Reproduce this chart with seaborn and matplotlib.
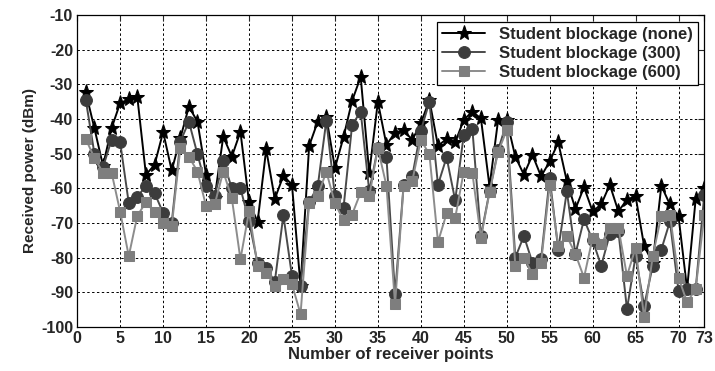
import matplotlib
matplotlib.use("Agg")
import matplotlib.pyplot as plt
import numpy as np
import pandas as pd
import seaborn as sns

sns.set_style('white')
plt.rcParams['font.family'] = ['Liberation Sans', 'DejaVu Sans']
plt.rcParams['font.weight'] = 'bold'
plt.rcParams['axes.unicode_minus'] = False

points = list(range(1, 74))

# Received power (dBm), receiver points 1..73
power_none = [-32.4, -42.7, -53.5, -42.7, -35.4, -34.4, -33.8, -56.1, -53.3, -43.8,
              -54.9, -45.6, -36.5, -40.8, -56.1, -62.8, -45.1, -50.9, -43.7, -64.0,
              -69.7, -48.8, -63.1, -56.4, -59.0, -88.2, -47.8, -40.8, -39.4, -54.2,
              -45.3, -34.8, -27.9, -55.6, -35.1, -47.5, -44.0, -43.2, -46.1, -41.3,
              -34.6, -47.8, -45.8, -46.8, -40.3, -37.9, -39.9, -59.5, -40.3, -40.3,
              -50.9, -56.1, -50.4, -56.6, -52.3, -46.8, -58.0, -66.0, -59.7, -66.7,
              -64.7, -59.0, -66.7, -63.3, -62.3, -76.7, -81.5, -59.3, -64.7, -68.1,
              -89.1, -63.1, -60.0]
power_300 = [-34.6, -50.0, -54.0, -46.0, -46.8, -64.3, -62.5, -59.3, -61.4, -67.1,
             -70.0, -46.6, -40.8, -50.2, -59.5, -62.3, -52.3, -60.0, -60.0, -69.5,
             -81.7, -82.9, -87.0, -67.8, -85.3, -88.2, -64.0, -59.5, -40.5, -62.2,
             -65.7, -41.8, -37.9, -60.9, -48.3, -51.1, -90.6, -59.0, -56.6, -43.4,
             -35.1, -59.0, -51.1, -63.5, -44.6, -42.9, -73.8, -60.9, -49.0, -41.0,
             -80.0, -73.8, -81.5, -80.5, -57.0, -77.7, -60.9, -79.0, -69.0, -75.0,
             -82.4, -73.3, -72.4, -94.9, -79.6, -93.9, -82.4, -77.7, -69.6, -89.6,
             -89.1, -89.1, -61.9]
power_600 = [-45.8, -51.3, -55.5, -55.5, -66.8, -79.6, -67.9, -64.1, -66.9, -70.0,
             -71.0, -48.5, -50.9, -55.2, -65.2, -64.7, -55.2, -62.9, -80.5, -66.7,
             -82.4, -84.4, -88.2, -86.1, -87.7, -96.3, -64.3, -62.3, -55.2, -64.3,
             -69.3, -67.6, -61.2, -62.3, -48.5, -59.3, -93.4, -59.3, -58.0, -46.1,
             -50.2, -75.5, -67.3, -68.6, -55.2, -55.6, -74.3, -61.2, -49.5, -43.3,
             -82.4, -80.0, -84.8, -81.5, -59.0, -76.7, -73.8, -79.0, -85.8, -74.3,
             -76.2, -71.4, -71.4, -85.3, -77.2, -97.3, -79.6, -67.9, -67.6, -85.8,
             -92.9, -89.1, -67.6]

series_labels = ['Student blockage (none)', 'Student blockage (300)', 'Student blockage (600)']
x_ticks = [0, 5, 10, 15, 20, 25, 30, 35, 40, 45, 50, 55, 60, 65, 70, 73]
y_ticks = [-100, -90, -80, -70, -60, -50, -40, -30, -20, -10]

fig = plt.figure(figsize=(7.15, 3.71), dpi=100)
ax = fig.add_axes([0.108, 0.119, 0.877, 0.841])

styles = [
    (power_none, '*', 11, 'black', 'black'),
    (power_300, 'o', 8.5, '#3c3c3c', '#4a4a4a'),
    (power_600, 's', 7.5, '#7e7e7e', '#8c8c8c'),
]
for (vals, mk, ms, mcol, lcol), lab in zip(styles, series_labels):
    sns.lineplot(x=points, y=vals, ax=ax, label=lab, color=lcol, linewidth=1.4,
                 marker=mk, markersize=ms, markerfacecolor=mcol, markeredgecolor=mcol)

ax.set_xlim(0, 73)
ax.set_ylim(-100, -10)
ax.set_xticks(x_ticks)
ax.set_yticks(y_ticks)
ax.tick_params(axis='both', labelsize=11.5, direction='in', length=4,
               top=True, right=True, width=0.8, pad=3)
for lab in ax.get_xticklabels() + ax.get_yticklabels():
    lab.set_fontweight('bold')
ax.grid(True, color='black', linestyle=(0, (2.5, 2.5)), linewidth=0.7)
for s in ax.spines.values():
    s.set_color('black')
    s.set_linewidth(0.9)

ax.set_xlabel('Number of receiver points', fontsize=12, fontweight='bold', labelpad=1)
ax.set_ylabel('Received power (dBm)', fontsize=11, fontweight='bold', labelpad=3)

leg = ax.legend(loc='upper right', fontsize=12, frameon=True, fancybox=False,
                borderaxespad=0.4, handlelength=2.6, borderpad=0.3, labelspacing=0.25)
leg.get_frame().set_edgecolor('black')
leg.get_frame().set_linewidth(0.9)
leg.get_frame().set_alpha(1)
for t in leg.get_texts():
    t.set_fontweight('bold')

fig.savefig('out.png', dpi=100)
